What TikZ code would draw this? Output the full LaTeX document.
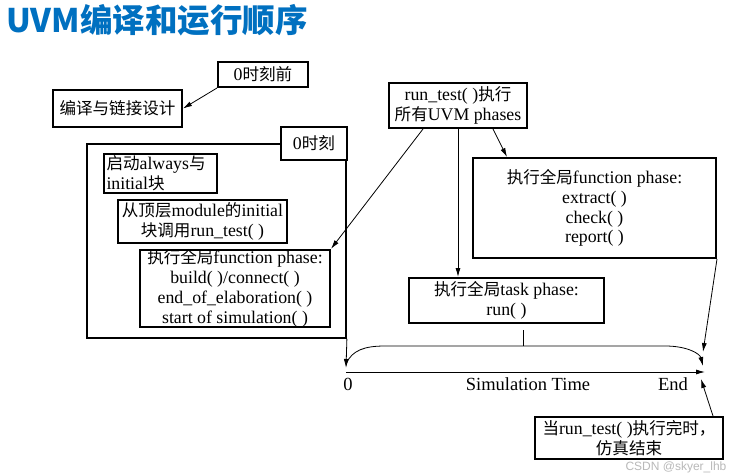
\documentclass[tikz,border=0pt]{standalone}
\usepackage{fontspec}
\setmainfont{Liberation Serif}
\newfontfamily\cjk[Scale=0.93]{Noto Sans CJK SC}
\newfontfamily\titlecjk{Noto Sans CJK SC}
\newfontfamily\wmfont{Liberation Sans}
\usetikzlibrary{arrows.meta,calc}
\newcommand\zh[1]{{\cjk #1}}
\definecolor{titleblue}{RGB}{0,112,192}
\begin{document}
\begin{tikzpicture}[x=1pt,y=-1pt,
  box/.style={draw,line width=2pt,inner sep=0pt,align=center,fill=white,
    font=\fontsize{17.8}{19.8}\selectfont},
  thinline/.style={line width=0.8pt},
  arr/.style={thinline,-{Latex[length=9pt,width=5pt]}},
  axislabel/.style={anchor=base,inner sep=0pt,font=\fontsize{18.5}{18.5}\selectfont},
]
\useasboundingbox[fill=white] (0,0) rectangle (745,474);

% title
\node[anchor=base west,inner sep=0pt,text=titleblue,
  font=\titlecjk\bfseries\fontsize{32.5}{32.5}\selectfont] (title) at (6,32) {UVM编译和运行顺序};

% before time 0
\node[box,minimum width=90,minimum height=25] (before0) at (263,74.5) {0\zh{时刻前}};
\node[box,minimum width=129,minimum height=37] (compile) at (117.5,108.5) {\zh{编译与链接设计}};

% time 0 frame
\node[draw,line width=1.8pt,inner sep=0pt,minimum width=259,minimum height=194] (frame) at (216.5,241) {};
\node[box,minimum width=66,minimum height=33] (t0label) at (314,143.5) {0\zh{时刻}};
\node[box,minimum width=113,minimum height=39,text width=108,align=left] (always) at (160.5,173.5)
  {\zh{启动}always\zh{与}\\initial\zh{块}};
\node[box,minimum width=169,minimum height=43] (toplevel) at (202.5,221.5)
  {\zh{从顶层}module\zh{的}initial\\\zh{块调用}run\_test( )};
\node[box,minimum width=190,minimum height=73] (buildph) at (235,288.5)
  {\zh{执行全局}function phase:\\build( )/connect( )\\end\_of\_elaboration( )\\start of simulation( )};

% run_test and phases
\node[box,minimum width=138,minimum height=45] (runtest) at (458,105.5)
  {run\_test( )\zh{执行}\\\zh{所有}UVM phases};
\node[box,minimum width=243,minimum height=100] (extractph) at (594.5,208)
  {\zh{执行全局}function phase:\\extract( )\\check( )\\report( )};
\node[box,minimum width=195,minimum height=45] (taskph) at (506.5,300.5)
  {\zh{执行全局}task phase:\\run( )};
\node[box,minimum width=188,minimum height=42] (endbox) at (629,438)
  {\zh{当}run\_test( )\zh{执行完时，}\\\zh{仿真结束}};

% timeline coordinates
\coordinate (t0) at (346,372);
\coordinate (tend) at (705,372);
\coordinate (t0top) at (346,368);
\coordinate (bl) at (346,364);
\coordinate (br) at (703,366);
\coordinate (endA) at (703,352);
\coordinate (endB) at (701,379);
\coordinate (bmid) at (523,346);
\coordinate (tick) at (523,330);

% connectors
\draw[arr] (before0.south west) -- (compile.east);
\draw[arr] ($(runtest.south west)!0.25!(runtest.south east)$) -- (buildph.north east);
\draw[arr] (runtest.south) -- (runtest.south |- taskph.north);
\draw[arr] ($(runtest.south west)!0.75!(runtest.south east)$) -- ($(extractph.north west)+(35,0)$);
\draw[arr] (extractph.south east) -- (endA);
\draw[arr] (frame.south east) -- (t0top);
\draw[arr] (t0) -- (tend);
\draw[arr] (bl) .. controls (352,350) and (365,346) .. (385,346) -- (665,346)
  .. controls (688,346) and (700,354) .. (br);
\draw[thinline] (bmid) -- (tick);
\draw[arr] ($(endbox.north east)+(-11,0)$) -- (endB);

% axis labels
\node[axislabel] (lab0) at (348,390) {0};
\node[axislabel] (labsim) at (528,390) {Simulation Time};
\node[axislabel] (labend) at (673,390) {End};

% watermark
\node[anchor=base,inner sep=0pt,text=gray!55,font=\wmfont\fontsize{12}{12}\selectfont] (wm) at (676,470) {CSDN @skyer\_lhb};
\end{tikzpicture}
\end{document}
